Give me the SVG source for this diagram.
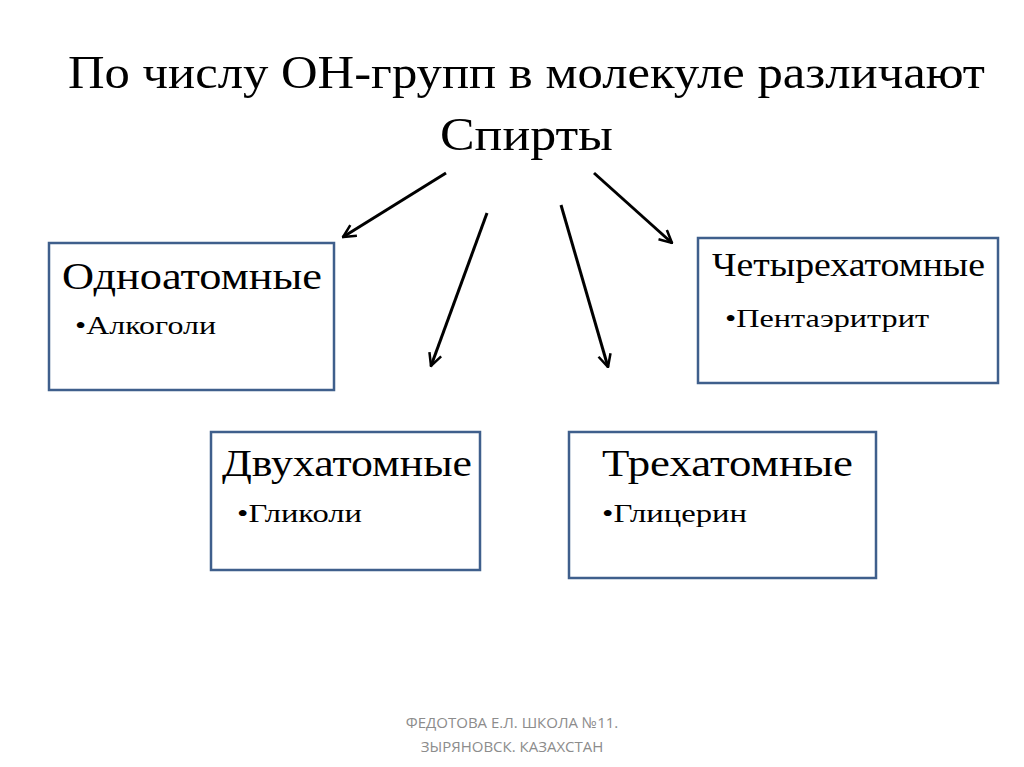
<svg xmlns="http://www.w3.org/2000/svg" width="1024" height="767" viewBox="0 0 1024 767">
<defs>
<style>
.t{font-family:"Liberation Serif","DejaVu Serif",serif;fill:#000}
.box{fill:#fff;stroke:#3f5f8c;stroke-width:2.5}
.arr{stroke:#000;stroke-width:3;fill:none}
.ft{font-family:"Open Sans","Liberation Sans",sans-serif;fill:#8c8c8c;font-size:15px;text-anchor:middle}
</style>
<marker id="ah" viewBox="0 0 12 12" refX="11" refY="6" markerWidth="5" markerHeight="5" orient="auto" markerUnits="strokeWidth">
<path d="M1,1 L11,6 L1,11" fill="none" stroke="#000" stroke-width="2"/>
</marker>
</defs>
<rect width="1024" height="767" fill="#fff"/>
<g id="title">
<text class="t" x="68" y="88" font-size="47" textLength="917" lengthAdjust="spacingAndGlyphs">По числу ОН-групп в молекуле различают</text>
<text class="t" x="440" y="150" font-size="47" textLength="173" lengthAdjust="spacingAndGlyphs">Спирты</text>
</g>
<g id="connectors">
<line class="arr" x1="446" y1="173" x2="343" y2="237" marker-end="url(#ah)"/>
<line class="arr" x1="487" y1="213" x2="431" y2="366" marker-end="url(#ah)"/>
<line class="arr" x1="561" y1="205" x2="608" y2="367" marker-end="url(#ah)"/>
<line class="arr" x1="594" y1="173" x2="672" y2="243" marker-end="url(#ah)"/>
</g>
<g id="node-odnoatomnye">
<rect class="box" x="49" y="243" width="285" height="147"/>
<text class="t" x="62" y="289" font-size="38" textLength="260" lengthAdjust="spacingAndGlyphs">Одноатомные</text>
<text class="t" x="75" y="334" font-size="26" textLength="141" lengthAdjust="spacingAndGlyphs">•Алкоголи</text>
</g>
<g id="node-chetyrekhatomnye">
<rect class="box" x="698" y="238" width="300" height="145"/>
<text class="t" x="712" y="276" font-size="33" textLength="273" lengthAdjust="spacingAndGlyphs">Четырехатомные</text>
<text class="t" x="725" y="327" font-size="26" textLength="204" lengthAdjust="spacingAndGlyphs">•Пентаэритрит</text>
</g>
<g id="node-dvukhatomnye">
<rect class="box" x="211" y="432" width="269" height="138"/>
<text class="t" x="222" y="476" font-size="38" textLength="250" lengthAdjust="spacingAndGlyphs">Двухатомные</text>
<text class="t" x="237" y="522" font-size="26" textLength="125" lengthAdjust="spacingAndGlyphs">•Гликоли</text>
</g>
<g id="node-trekhatomnye">
<rect class="box" x="569" y="432" width="307" height="146"/>
<text class="t" x="602" y="476" font-size="38" textLength="251" lengthAdjust="spacingAndGlyphs">Трехатомные</text>
<text class="t" x="602" y="522" font-size="26" textLength="145" lengthAdjust="spacingAndGlyphs">•Глицерин</text>
</g>
<g id="footer">
<text class="ft" x="512" y="728">ФЕДОТОВА Е.Л. ШКОЛА №11.</text>
<text class="ft" x="512" y="752">ЗЫРЯНОВСК. КАЗАХСТАН</text>
</g>
</svg>
